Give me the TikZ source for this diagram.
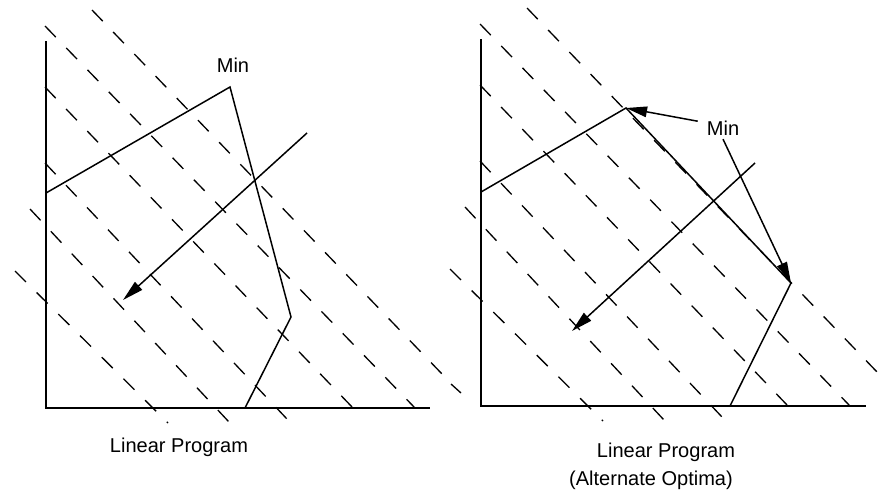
\documentclass[tikz,border=0pt]{standalone}
\usepackage{fontspec}
\setmainfont{Liberation Sans}
\usetikzlibrary{arrows.meta}
\tikzset{
  axe/.style={line width=1.1pt},
  bord/.style={line width=0.85pt},
  iso/.style={line width=0.75pt,dash pattern=on 8.8pt off 8.6pt},
  fl/.style={line width=0.85pt,-{Triangle[length=12pt,width=6pt]}},
  lbl/.style={font=\fontsize{11.4}{13.5}\selectfont,inner sep=2pt},
}
% family of dashed level lines (left panel coordinates)
\newcommand{\isolignes}{%
  \foreach \sx/\sy/\ex/\ey in {92/10/443/375, 45/26/415/408, 45/87/353/408,
      45/163/287/419, 30/209/229/422, 15/271/168/423}
    \draw[iso] (\sx,\sy) -- (\ex,\ey);}

\begin{document}
\begin{tikzpicture}[x=0.02cm,y=-0.02cm]
  \useasboundingbox (0,0) rectangle (888,494);

  % left: single optimum
  \isolignes
  \coordinate (o1) at (46,408); \coordinate (y1) at (46,41);
  \coordinate (x1) at (430,408);
  \coordinate (a1) at (46,193); \coordinate (b1) at (230,87);
  \coordinate (c1) at (291,317); \coordinate (d1) at (245,408);
  \coordinate (g1) at (307,133); \coordinate (h1) at (123,300);
  \draw[axe] (y1) -- (o1) -- (x1);
  \draw[bord] (a1) -- (b1) -- (c1) -- (d1);
  \draw[fl] (g1) -- (h1);
  \node[lbl] (min1) at (233,65) {Min};
  \node[lbl] (lp1) at (179,447) {Linear Program};

  % right: alternate optima
  \begin{scope}[shift={(435,-2)}]
    \isolignes
  \end{scope}
  \draw[iso] (451,384) -- (461,393);
  \coordinate (o2) at (481,406); \coordinate (y2) at (481,39);
  \coordinate (x2) at (866,406);
  \coordinate (a2) at (481,192); \coordinate (b2) at (626,108);
  \coordinate (c2) at (791,283); \coordinate (d2) at (730,406);
  \coordinate (g2) at (755,163); \coordinate (h2) at (572,331);
  \draw[axe] (y2) -- (o2) -- (x2);
  \draw[bord] (a2) -- (b2) -- (c2) -- (d2);
  \draw[fl] (g2) -- (h2);
  \node[lbl,inner xsep=5pt] (min2) at (723,128) {Min};
  \draw[fl] (min2.165) -- (b2);
  \draw[fl] (min2.south) -- (c2);
  \node[lbl] (lp2) at (666,452) {Linear Program};
  \node[lbl] (alt2) at (651,480) {(Alternate Optima)};
\end{tikzpicture}
\end{document}
